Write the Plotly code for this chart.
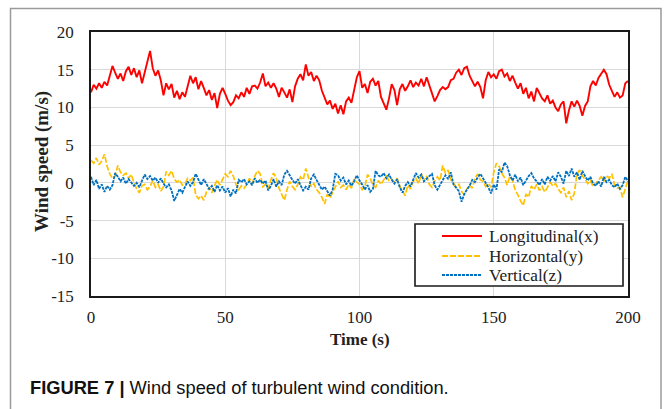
import plotly.graph_objects as go

# Time axis (s), one sample per second
time_s = list(range(0, 201))

# Longitudinal (x) wind speed, m/s
longitudinal = [
    12.0, 13.0, 12.5, 13.2, 12.6, 13.4, 12.9, 14.2, 15.5, 14.6,
    13.8, 14.5, 13.5, 14.8, 15.4, 14.3, 15.2, 14.0, 14.9, 13.2,
    14.6, 15.8, 17.5, 15.2, 14.2, 14.9, 13.6, 11.6, 13.2, 12.4,
    13.1, 11.3, 12.2, 11.1, 12.0, 11.4, 12.8, 14.2, 13.2, 14.0,
    12.4, 13.5, 12.6, 11.6, 12.3, 11.0, 11.9, 9.9, 11.8, 12.6,
    11.8, 10.9, 10.3, 10.7, 11.6, 11.2, 12.0, 11.4, 12.6, 11.8,
    12.8, 12.9, 12.5, 13.3, 14.5, 12.8, 13.3, 12.6, 13.2, 12.5,
    11.4, 12.6, 12.0, 11.3, 12.4, 10.7, 12.8, 13.8, 14.4, 13.6,
    15.7, 14.2, 14.7, 13.5, 14.2, 13.6, 12.2, 11.2, 10.4, 10.9,
    9.8, 10.5, 9.2, 10.3, 9.1, 10.8, 11.3, 10.6, 12.4, 14.0,
    14.8, 12.6, 13.1, 11.9, 13.4, 13.8, 12.9, 13.5, 11.4, 10.6,
    9.7, 11.2, 13.1, 12.3, 10.3, 12.4, 13.1, 12.2, 12.8, 13.6,
    12.7, 13.3, 12.9, 13.8, 12.8, 14.0, 13.0, 11.8, 10.8, 11.5,
    12.3, 12.7, 12.4, 12.7, 13.6, 13.8, 14.6, 15.0, 14.3, 15.2,
    15.4, 14.2, 13.5, 12.8, 13.4, 12.7, 11.2, 13.6, 14.7, 14.0,
    14.4, 13.8, 14.8, 15.0, 14.1, 14.5, 13.5, 14.2, 13.3, 12.5,
    13.2, 11.8, 12.6, 11.2, 12.1, 10.8, 12.6, 11.9, 11.2, 10.8,
    11.6, 10.5, 10.9, 10.0, 9.5, 10.4, 10.8, 7.9, 9.6, 10.8,
    10.1, 10.9, 10.2, 8.9, 10.2, 10.8, 12.8, 13.5, 12.9, 13.9,
    14.5, 15.0, 14.4, 13.0, 12.2, 11.4, 12.0, 11.3, 11.6, 13.2,
    13.5,
]

# Horizontal (y) wind speed, m/s
horizontal = [
    3.0, 2.6, 3.3, 2.4, 2.9, 3.8, 2.2, 1.2, 0.6, 0.9,
    2.3, 1.4, 1.0, 1.3, 0.6, 1.1, 0.0, -0.8, -1.3, -0.4,
    -0.2, -0.9, -0.5, 0.3, -0.6, -0.2, -1.1, -0.5, 1.5, 1.0,
    1.6, 0.5, 0.1, 0.4, -0.3, -0.1, 0.6, 0.3, 0.7, -1.6,
    -2.1, -1.7, -2.3, -1.2, -0.6, -1.3, -0.4, 0.4, -0.3, 0.5,
    1.2, 0.8, 1.6, 0.9, -0.2, -0.9, -0.4, -0.7, -0.2, 0.6,
    -0.1, 0.9, 1.6, 1.2, -0.5, -0.2, -0.8, 0.4, 1.3, 0.6,
    -0.7, -1.5, -2.3, -0.9, 0.2, -0.5, -0.9, -0.2, 0.8, 0.4,
    1.9, 0.7, -0.5, -0.1, -0.9, -1.3, -1.9, -2.8, -1.5, -2.0,
    -1.2, -0.4, 0.2, -0.6, -0.3, -0.9, -0.2, -0.7, 0.5, 0.1,
    -0.2, -0.9, -0.5, 1.1, 0.6, -0.3, -0.6, 0.3, -0.2, 0.4,
    0.9, 0.3, 0.5, 0.1, 0.6, -0.4, -1.0, -1.7, -0.3, -0.8,
    0.2, 0.6, -0.1, 1.1, 0.5, 0.9, -0.2, -0.6, 0.2, 0.8,
    0.3, 2.3, 1.3, 1.7, 0.4, 0.0, -0.6, -0.2, -1.1, -1.6,
    -0.8, -0.3, -0.7, 0.6, 1.2, 0.4, 0.2, -0.5, -0.1, -0.6,
    1.4, 2.6, 2.2, 1.3, 0.7, -0.3, 0.9, 0.3, -1.0, -1.6,
    -2.4, -3.0, -1.5, -1.9, -0.4, -0.9, -0.2, -1.0, -0.5, -1.2,
    -0.6, 0.1, -0.4, -0.1, -0.8, -1.3, -0.6, -1.9, -1.1, -2.3,
    -1.4, 1.2, 1.7, 0.9, 0.5, -0.1, 0.3, -0.5, -0.1, 0.4,
    0.8, 0.2, 1.0, 0.6, 1.2, -0.3, -0.7, -0.6, -1.9, -0.8,
    0.3,
]

# Vertical (z) wind speed, m/s
vertical = [
    0.8, -0.3, 0.4, -0.8, -0.2, -1.2, -0.4, -0.9, -0.3, 1.3,
    0.8, 0.2, 0.7, -0.1, 0.5, 0.1, -0.4, 0.0, -0.6, 0.3,
    1.1, 0.5, 0.9, 0.3, 0.7, 0.0, 0.6, -0.1, -0.6, -0.2,
    -1.0, -2.4, -1.6, -0.8, -1.3, -0.6, 0.2, -0.4, 0.1, 1.2,
    0.4, -0.3, 0.5, -0.2, -0.8, -0.4, -1.2, -0.3, -1.0, -0.5,
    -1.3, -0.7, -1.8, -0.9, -1.4, 0.4, 0.1, 0.5, -0.2, 0.2,
    -0.3, 0.6, 0.0, 0.4, -0.1, 0.3, -1.0, -0.4, 0.5, -0.5,
    0.2, -0.3, 1.1, 1.6, 0.9, 0.4, -0.1, 0.5, -0.3, -1.0,
    -0.5, -0.9, 0.6, 1.1, 0.4, -0.2, -0.9, -0.5, -1.2, -1.7,
    -0.9, 1.2, 1.0, 0.3, 0.7, -0.2, 0.3, -0.4, 0.2, 1.0,
    0.3, -0.2, -0.9, -0.3, -1.2, -0.8, 1.6, 1.0, 0.8, 1.3,
    0.6, 1.1, 0.4, -0.1, 0.5, -0.6, -1.3, -0.4, 0.1, -0.5,
    0.4, 1.3, 0.7, 1.1, 0.2, 0.6, 0.9, 1.2, -0.3, -0.9,
    -0.2, 0.3, 1.0, 0.5, 1.4, -0.2, -0.7, -1.1, -2.5, -1.5,
    -0.9, -0.4, 0.4, 0.1, 0.7, 1.2, 0.6, 0.0, -0.6, -1.4,
    -0.2, -0.9, 1.8, 1.4, 2.7, 2.2, 1.0, 0.3, 1.1, 0.2,
    0.7, -0.3, 0.4, 0.9, 1.3, 0.6, 0.2, -0.3, 0.5, -0.2,
    0.8, 0.3, 0.9, 0.2, 1.4, 0.8, -0.1, 1.6, 0.9, 1.9,
    0.8, 1.4, 0.4, 1.6, 0.9, 0.3, 0.8, -0.1, -0.4, 0.2,
    -0.5, 0.8, 0.1, 0.4, -0.3, -0.6, -0.1, -0.8, -0.3, 0.8,
    0.2,
]

series_names = ["Longitudinal(x)", "Horizontal(y)", "Vertical(z)"]
series_colors = ["#FF0000", "#FFC000", "#0070C0"]
series_dash = ["solid", "6px,2px", "3px,1px"]
series_width = [1.9, 1.7, 1.8]
x_ticks = [0, 50, 100, 150, 200]
y_ticks = [-15, -10, -5, 0, 5, 10, 15, 20]
y_tick_text = ["-15", "-10", "-5", "0", "5", "10", "15", "20"]

SERIF = "Liberation Serif, Times New Roman, serif"
SANS = "Liberation Sans, Arial, sans-serif"

fig = go.Figure()
for name, values, color, dash, lw in zip(series_names, [longitudinal, horizontal, vertical],
                                         series_colors, series_dash, series_width):
    fig.add_trace(go.Scatter(x=time_s, y=values, mode="lines", name=name,
                             line=dict(color=color, width=lw, dash=dash)))

# Plot area in pixels: x 91..628, y 32..296
L, R, T, B = 91, 628, 32, 296
W, H = 664, 409
pw, ph = R - L, B - T


def px(x):
    return (x - L) / pw


def py(y):
    return (B - y) / ph


axis_common = dict(
    showgrid=True, gridcolor="#D9D9D9", gridwidth=1.2,
    showline=True, linecolor="#1a1a1a", linewidth=1.6, mirror=True,
    ticks="", zeroline=False,
    tickfont=dict(family=SERIF, size=17, color="#222"),
)

shapes = [
    # outer figure frame
    dict(type="rect", xref="paper", yref="paper",
         x0=px(10.5), x1=px(661), y0=py(430), y1=py(8.5),
         line=dict(color="#9a9a9a", width=1.5), fillcolor="rgba(0,0,0,0)", layer="below"),
    # legend box
    dict(type="rect", xref="paper", yref="paper",
         x0=px(415), x1=px(623), y0=py(286), y1=py(224),
         line=dict(color="#1a1a1a", width=1.6), fillcolor="white", layer="above"),
]

annotations = [
    dict(xref="paper", yref="paper", x=px(360), y=py(339), xanchor="center", yanchor="middle",
         showarrow=False, text="<b>Time (s)</b>",
         font=dict(family=SERIF, size=17, color="#222")),
    dict(xref="paper", yref="paper", x=px(42), y=py(162), xanchor="center", yanchor="middle",
         showarrow=False, text="<b>Wind speed (m/s)</b>", textangle=-90,
         font=dict(family=SERIF, size=19, color="#222")),
    dict(xref="paper", yref="paper", x=px(28), y=py(387), xanchor="left", yanchor="middle",
         showarrow=False,
         text="<b>FIGURE 7 |</b> Wind speed of turbulent wind condition.",
         font=dict(family=SANS, size=18.3, color="#111")),
]

# legend entries: sample line + label
row_y = [236, 256, 275]
for name, color, dash, ry in zip(series_names, series_colors, series_dash, row_y):
    shapes.append(dict(type="line", xref="paper", yref="paper",
                       x0=px(442), x1=px(482), y0=py(ry), y1=py(ry),
                       line=dict(color=color, width=1.8, dash=dash), layer="above"))
    annotations.append(dict(xref="paper", yref="paper", x=px(487), y=py(ry),
                            xanchor="left", yanchor="middle", showarrow=False, text=name,
                            font=dict(family=SERIF, size=17.3, color="#222")))

fig.update_layout(
    width=W, height=H,
    margin=dict(l=L, r=W - R, t=T, b=H - B),
    paper_bgcolor="white", plot_bgcolor="white",
    xaxis=dict(range=[0, 200], tickvals=x_ticks, ticklabelstandoff=5, **axis_common),
    yaxis=dict(range=[-15, 20], tickvals=y_ticks, ticktext=y_tick_text,
               ticklabelstandoff=12, **axis_common),
    showlegend=False,
    shapes=shapes,
    annotations=annotations,
)

fig.write_html("out.html")
